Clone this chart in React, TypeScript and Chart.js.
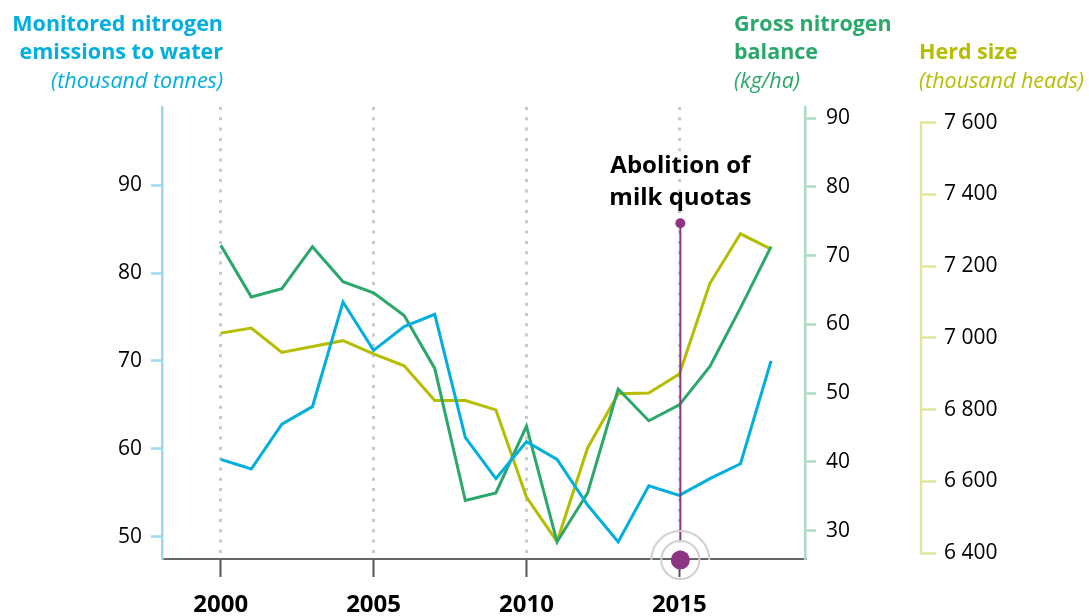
import React, { useEffect, useRef } from "react";
import { Chart, registerables } from "chart.js";

Chart.register(...registerables);

// ---- data ----
const years = [2000, 2001, 2002, 2003, 2004, 2005, 2006, 2007, 2008, 2009, 2010, 2011, 2012, 2013, 2014, 2015, 2016, 2017, 2018];
const emissionsToWater = [58.8, 57.7, 62.8, 64.8, 76.7, 71.2, 73.9, 75.3, 61.3, 56.6, 60.8, 58.8, 53.6, 49.4, 55.8, 54.7, 56.6, 58.3, 70.0];
const nitrogenBalance = [71.5, 64.0, 65.2, 71.3, 66.2, 64.6, 61.3, 53.6, 34.4, 35.5, 45.2, 28.4, 35.5, 50.6, 46.0, 48.3, 53.9, 62.4, 71.3];
const herdSize = [7013, 7027, 6959, 6976, 6992, 6955, 6922, 6825, 6825, 6799, 6556, 6432, 6693, 6844, 6846, 6899, 7152, 7290, 7247];

const xTicks = [2000, 2005, 2010, 2015];
const emissionsTicks = [50, 60, 70, 80, 90];
const balanceTicks = [30, 40, 50, 60, 70, 80, 90];
const herdTicks = [6400, 6600, 6800, 7000, 7200, 7400, 7600];

const annotationYear = 2015;
const annotationTopBalance = 74.7;
const annotationLabel = ["Abolition of", "milk quotas"];

const emissionsTitle = ["Monitored nitrogen", "emissions to water", "(thousand tonnes)"];
const balanceTitle = ["Gross nitrogen", "balance", "(kg/ha)"];
const herdTitle = ["Herd size", "(thousand heads)"];

// ---- styles ----
const FONT = "'Open Sans', 'Noto Sans', sans-serif";
const BLUE = "#00afdf";
const GREEN = "#2aa86a";
const YELLOW = "#b6bd00";
const BLUE_AXIS = "#9ad8ef";
const GREEN_AXIS = "#a9dcc2";
const YELLOW_AXIS = "#e2e59c";
const PURPLE = "#8e3482";

const fmtThousands = (v: number) => {
  const s = String(Math.round(v));
  return s.replace(/\B(?=(\d{3})+(?!\d))/g, " ");
};

const setTicks = (vals: number[]) => (scale: any) => {
  scale.ticks = vals.map((v) => ({ value: v }));
};

const titlesPlugin = {
  id: "titles",
  afterDraw(chart: any) {
    const ctx = chart.ctx;
    ctx.save();
    ctx.textBaseline = "middle";
    // left title
    ctx.fillStyle = BLUE;
    ctx.textAlign = "right";
    ctx.font = `bold 21.5px ${FONT}`;
    ctx.fillText(emissionsTitle[0], 223, 25);
    ctx.fillText(emissionsTitle[1], 223, 53);
    ctx.font = `italic 21.5px ${FONT}`;
    ctx.fillText(emissionsTitle[2], 223, 82);
    // green
    ctx.fillStyle = GREEN;
    ctx.textAlign = "left";
    ctx.font = `bold 21.5px ${FONT}`;
    ctx.fillText(balanceTitle[0], 734, 25);
    ctx.fillText(balanceTitle[1], 734, 53);
    ctx.font = `italic 21.5px ${FONT}`;
    ctx.fillText(balanceTitle[2], 734, 82);
    // yellow
    ctx.fillStyle = YELLOW;
    ctx.font = `bold 21.5px ${FONT}`;
    ctx.fillText(herdTitle[0], 919, 53);
    ctx.font = `italic 21.5px ${FONT}`;
    ctx.fillText(herdTitle[1], 919, 82);
    ctx.restore();
  },
};

const herdAxisPlugin = {
  id: "herdAxisLine",
  afterDraw(chart: any) {
    const s = chart.scales.yH;
    const ctx = chart.ctx;
    ctx.save();
    ctx.strokeStyle = YELLOW_AXIS;
    ctx.lineWidth = 2.5;
    ctx.beginPath();
    const x = s.left + 1;
    ctx.moveTo(x, s.getPixelForValue(herdTicks[0]) + 1);
    ctx.lineTo(x, s.getPixelForValue(herdTicks[herdTicks.length - 1]) - 1);
    ctx.stroke();
    ctx.restore();
  },
};

const annotationPlugin = {
  id: "quotaAnnotation",
  afterDraw(chart: any) {
    const ctx = chart.ctx;
    const xs = chart.scales.x;
    const yb = chart.scales.yB;
    const x = xs.getPixelForValue(annotationYear) + 1;
    const yTop = yb.getPixelForValue(annotationTopBalance);
    const yBot = chart.chartArea.bottom + 1;
    ctx.save();
    // vertical line
    ctx.strokeStyle = PURPLE;
    ctx.lineWidth = 2;
    ctx.beginPath();
    ctx.moveTo(x, yTop);
    ctx.lineTo(x, yBot - 19);
    ctx.stroke();
    // top dot
    ctx.fillStyle = PURPLE;
    ctx.beginPath();
    ctx.arc(x, yTop, 5, 0, Math.PI * 2);
    ctx.fill();
    // rings
    ctx.strokeStyle = "#cfcfcf";
    ctx.lineWidth = 2;
    ctx.beginPath();
    ctx.arc(x, yBot, 19, 0, Math.PI * 2);
    ctx.stroke();
    ctx.beginPath();
    ctx.arc(x, yBot, 29, Math.PI, Math.PI * 2);
    ctx.stroke();
    // bottom dot
    ctx.fillStyle = PURPLE;
    ctx.beginPath();
    ctx.arc(x, yBot, 9.5, 0, Math.PI * 2);
    ctx.fill();
    // label
    ctx.fillStyle = "#000";
    ctx.font = `bold 24px ${FONT}`;
    ctx.textAlign = "center";
    ctx.textBaseline = "middle";
    ctx.fillText(annotationLabel[0], x, yTop - 57);
    ctx.fillText(annotationLabel[1], x, yTop - 25);
    ctx.restore();
  },
};

export default function App() {
  const ref = useRef<HTMLCanvasElement | null>(null);

  useEffect(() => {
    if (!ref.current) return;
    const tickFont = { family: FONT, size: 21 };
    const chart = new Chart(ref.current, {
      type: "line",
      data: {
        datasets: [
          {
            label: "Monitored nitrogen emissions to water",
            data: years.map((y, i) => ({ x: y, y: emissionsToWater[i] })),
            borderColor: BLUE,
            borderWidth: 3,
            pointRadius: 0,
            yAxisID: "yN",
            order: 0,
          },
          {
            label: "Gross nitrogen balance",
            data: years.map((y, i) => ({ x: y, y: nitrogenBalance[i] })),
            borderColor: GREEN,
            borderWidth: 3,
            pointRadius: 0,
            yAxisID: "yB",
            order: 1,
          },
          {
            label: "Herd size",
            data: years.map((y, i) => ({ x: y, y: herdSize[i] })),
            borderColor: YELLOW,
            borderWidth: 3,
            pointRadius: 0,
            yAxisID: "yH",
            order: 2,
          },
        ],
      },
      options: {
        animation: false,
        responsive: false,
        devicePixelRatio: 1,
        layout: { padding: { top: 107, left: 0, right: 0, bottom: 0 } },
        plugins: { legend: { display: false }, tooltip: { enabled: false } },
        elements: { line: { tension: 0 } },
        scales: {
          x: {
            type: "linear",
            position: "bottom",
            min: 1998.08,
            max: 2019.11,
            afterBuildTicks: setTicks(xTicks),
            afterFit: (s: any) => {
              s.height = 57;
            },
            grid: {
              display: true,
              drawOnChartArea: true,
              drawTicks: true,
              color: "#c9c9c9",
              lineWidth: 3,
              tickColor: "#555",
              tickWidth: 2,
              tickLength: 18,
            },
            border: { display: true, color: "#666", width: 2, dash: [3, 7.3] },
            ticks: {
              font: { family: FONT, size: 24, weight: "bold" },
              color: "#000",
              padding: 14,
              maxRotation: 0,
              callback: (v: any) => String(v),
            },
          },
          yN: {
            type: "linear",
            position: "left",
            min: 47.46,
            max: 98.9,
            afterBuildTicks: setTicks(emissionsTicks),
            afterFit: (s: any) => {
              s.width = 162;
            },
            grid: {
              display: true,
              drawOnChartArea: false,
              drawTicks: true,
              tickLength: 11,
              tickWidth: 2.5,
              tickColor: BLUE_AXIS,
              color: BLUE_AXIS,
            },
            border: { display: true, color: BLUE_AXIS, width: 2.5 },
            ticks: { font: tickFont, color: "#000", padding: 9 },
          },
          yB: {
            type: "linear",
            position: "right",
            min: 25.9,
            max: 91.6,
            afterBuildTicks: setTicks(balanceTicks),
            afterFit: (s: any) => {
              s.width = 115;
            },
            grid: {
              display: true,
              drawOnChartArea: false,
              drawTicks: true,
              tickLength: 11,
              tickWidth: 2.5,
              tickColor: GREEN_AXIS,
              color: GREEN_AXIS,
            },
            border: { display: true, color: GREEN_AXIS, width: 2.5 },
            ticks: { font: tickFont, color: "#000", padding: 10 },
          },
          yH: {
            type: "linear",
            position: "right",
            min: 6383.3,
            max: 7643.5,
            afterBuildTicks: setTicks(herdTicks),
            afterFit: (s: any) => {
              s.width = 169;
            },
            grid: {
              display: true,
              drawOnChartArea: false,
              drawTicks: true,
              tickLength: 16,
              tickWidth: 2.5,
              tickColor: YELLOW_AXIS,
              color: YELLOW_AXIS,
            },
            border: { display: false },
            ticks: {
              font: tickFont,
              color: "#000",
              padding: 8,
              callback: (v: any) => fmtThousands(Number(v)),
            },
          },
        },
      },
      plugins: [titlesPlugin, herdAxisPlugin, annotationPlugin],
    } as any);
    return () => chart.destroy();
  }, []);

  return (
    <div style={{ position: "fixed", left: 0, top: 0, width: 1089, height: 616, background: "#fff" }}>
      <canvas ref={ref} width={1089} height={616} />
    </div>
  );
}
